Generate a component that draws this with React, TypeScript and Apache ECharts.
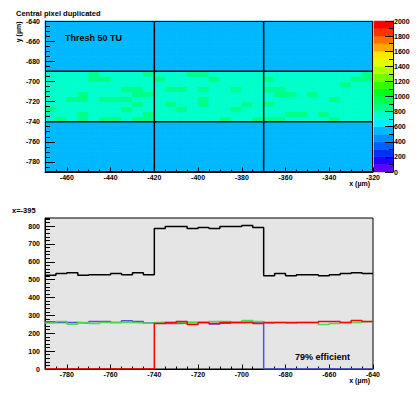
import React, { useEffect, useRef } from 'react';
import * as echarts from 'echarts';

// ---------- top 2D histogram (x, y in µm) ----------
const xStart = -470;
const xEnd = -320;
const yStart = -790;
const yEnd = -640;
const binSize = 5;
const bgValue = 530;
const bandValue = 785;
const hotValue = 820;
const bandTop = -690;
const bandBottom = -740;
// rows of the bright band, top row (-695..-690) first; '1' marks a hotter cell
const bandRows = [
  '000010000100011000000000000001',
  '000011000010000100001000000011',
  '000000000000000000000000000100',
  '000000011001101001001100000000',
  '000100001100000000000110100000',
  '001101110000001000000000001000',
  '000000001001001000101000000000',
  '100000010000100001000000000000',
  '000100000100000000000011010000',
  '010101101100000010011100001000',
];
const vLines = [-420, -370];
const hLines = [-740, -690];

// colour scale
const zMax = 2000;
const zStep = 100;
const palette = [
  '#6000ff', '#2400ff', '#0030ff', '#0060ff', '#0090ff',
  '#00b8ff', '#00f0ff', '#00ffcc', '#00ff88', '#00ff50',
  '#00ff1c', '#30ff00', '#70ff00', '#b0ff00', '#e0ff00',
  '#ffe800', '#ffa800', '#ff7000', '#ff3400', '#ff0000',
];

// ---------- bottom projection at x = -395 ----------
const projStart = -790;
const projEnd = -640;
const blackCounts = [524, 534, 539, 524, 528, 528, 534, 528, 539, 528, 786, 798, 798, 786, 792, 786, 798, 798, 803, 792, 522, 534, 522, 528, 528, 522, 528, 534, 539, 534];
const blueCounts = [264, 260, 260, 258, 266, 266, 260, 270, 266, 258, 260, 254, 256, 260, 260, 252, 256, 260, 262, 264, 0, 0, 0, 0, 0, 0, 0, 0, 0, 0];
const greenCounts = [258, 266, 250, 260, 254, 260, 260, 260, 258, 256, 260, 260, 260, 260, 260, 266, 266, 260, 271, 266, 256, 260, 256, 260, 260, 249, 254, 260, 260, 264];
const redCounts = [0, 0, 0, 0, 0, 0, 0, 0, 0, 0, 254, 260, 266, 249, 260, 254, 260, 260, 260, 254, 260, 260, 260, 260, 260, 266, 266, 260, 271, 266];
const projYMax = 845;

const FONT = '"Liberation Sans", Arial, Helvetica, sans-serif';

function colorFor(v: number) {
  const i = Math.max(0, Math.min(palette.length - 1, Math.floor(v / zStep)));
  return palette[i];
}

function buildHeat() {
  const data: number[][] = [];
  const nx = Math.round((xEnd - xStart) / binSize);
  const ny = Math.round((yEnd - yStart) / binSize);
  for (let iy = 0; iy < ny; iy++) {
    const y0 = yStart + iy * binSize;
    for (let ix = 0; ix < nx; ix++) {
      const x0 = xStart + ix * binSize;
      let v = bgValue;
      if (y0 >= bandBottom && y0 < bandTop) {
        const row = Math.round((bandTop - binSize - y0) / binSize);
        v = bandRows[row][ix] === '1' ? hotValue : bandValue;
      }
      data.push([x0, y0, v]);
    }
  }
  return data;
}

function stepData(counts: number[]) {
  const d = counts.map((v, i) => [projStart + i * binSize, v]);
  d.push([projStart + counts.length * binSize, counts[counts.length - 1]]);
  return d;
}

const labelStyle = {
  fontFamily: FONT, fontWeight: 'bold' as const, fontSize: 7, color: '#000',
  formatter: (v: number) => String(v),
};

function mainAxis(grid: number, pos: string, min: number, max: number, tickLen: number, margin: number, extra: any = {}, z = 5) {
  return {
    type: 'value', gridIndex: grid, position: pos, min, max, z,
    axisLine: { show: true, onZero: false, lineStyle: { color: '#000', width: 1 } },
    axisTick: { show: true, inside: true, length: tickLen, lineStyle: { color: '#000', width: 1 } },
    axisLabel: { ...labelStyle, margin, ...(extra.axisLabel || {}) },
    splitLine: { show: false },
    ...extra.rest,
  };
}

function minorAxis(grid: number, pos: string, min: number, max: number, interval: number, tickLen: number, z = 5) {
  return {
    type: 'value', gridIndex: grid, position: pos, min, max, interval, z,
    axisLine: { show: false, onZero: false },
    axisTick: { show: true, inside: true, length: tickLen, lineStyle: { color: '#000', width: 1 } },
    axisLabel: { show: false },
    splitLine: { show: false },
  };
}

export default function App() {
  const ref = useRef<HTMLDivElement>(null);
  useEffect(() => {
    if (!ref.current) return;
    const chart = echarts.init(ref.current, undefined, { renderer: 'svg' });
    const G0 = { left: 45, top: 21, width: 328, height: 151 };
    const G1 = { left: 374, top: 21, width: 19, height: 151 };
    const G2 = { left: 45, top: 218, width: 328, height: 151 };

    const lineSeries: any[] = [];
    vLines.forEach((x) => lineSeries.push({
      type: 'line', xAxisIndex: 0, yAxisIndex: 0, data: [[x, yStart], [x, yEnd]], symbol: 'none', z: 3,
      lineStyle: { color: '#000', width: 1.5 }, silent: true,
    }));
    hLines.forEach((y) => lineSeries.push({
      type: 'line', xAxisIndex: 0, yAxisIndex: 0, data: [[xStart, y], [xEnd, y]], symbol: 'none', z: 3,
      lineStyle: { color: '#000', width: 1.5 }, silent: true,
    }));

    const colorLevels = palette.map((_, i) => [i * zStep, (i + 1) * zStep]);

    const proj = (counts: number[], color: string, z: number) => ({
      type: 'line', xAxisIndex: 3, yAxisIndex: 4, step: 'end', data: stepData(counts), symbol: 'none', z,
      lineStyle: { color, width: 1.5 }, silent: true,
    });

    const txt = (text: string, x: number, y: number, size: number, align = 'left', rotation = 0) => ({
      type: 'text', x, y, rotation, z: 20, silent: true,
      style: { text, fill: '#000', fontFamily: FONT, fontWeight: 'bold', fontSize: size, align, verticalAlign: 'middle' },
    });

    chart.setOption({
      animation: false,
      backgroundColor: '#ffffff',
      grid: [
        { ...G0, show: false, containLabel: false, outerBoundsMode: 'none' },
        { ...G1, show: false, containLabel: false, outerBoundsMode: 'none' },
        { ...G2, show: true, backgroundColor: '#e5e5e5', borderColor: '#000', borderWidth: 1, containLabel: false, outerBoundsMode: 'none' },
      ],
      xAxis: [
        mainAxis(0, 'bottom', xStart, xEnd, 4.5, 2, { axisLabel: { showMinLabel: false, showMaxLabel: true }, rest: { minInterval: 20, maxInterval: 20, splitNumber: 8 } }),
        minorAxis(0, 'bottom', xStart, xEnd, 5, 2.5),
        { type: 'value', gridIndex: 1, min: 0, max: 1, show: false },
        mainAxis(2, 'bottom', projStart, projEnd, 4.5, 2, { axisLabel: { showMinLabel: false, showMaxLabel: true }, rest: { minInterval: 20, maxInterval: 20, splitNumber: 8 } }, 1),
        minorAxis(2, 'bottom', projStart, projEnd, 5, 2.5, 1),
      ],
      yAxis: [
        mainAxis(0, 'left', yStart, yEnd, 10, 5, { axisLabel: { showMinLabel: false, showMaxLabel: true }, rest: { minInterval: 20, maxInterval: 20, splitNumber: 8 } }),
        minorAxis(0, 'left', yStart, yEnd, 5, 5),
        mainAxis(1, 'right', 0, zMax, 8, 1, { axisLabel: { showMinLabel: true, showMaxLabel: true }, rest: { interval: 200 } }),
        minorAxis(1, 'right', 0, zMax, zStep, 4),
        mainAxis(2, 'left', 0, projYMax, 10, 5, { axisLabel: { showMinLabel: true, showMaxLabel: false }, rest: { interval: 100 } }, 1),
        minorAxis(2, 'left', 0, projYMax, 20, 5, 1),
      ],
      series: [
        {
          type: 'custom', xAxisIndex: 0, yAxisIndex: 0, data: buildHeat(), encode: { x: 0, y: 1 }, z: 2, silent: true,
          renderItem: (params: any, api: any) => {
            const x0 = api.value(0), y0 = api.value(1), v = api.value(2);
            const p1 = api.coord([x0, y0 + binSize]);
            const p2 = api.coord([x0 + binSize, y0]);
            const c = colorFor(v);
            return {
              type: 'rect',
              shape: { x: p1[0], y: p1[1], width: p2[0] - p1[0], height: p2[1] - p1[1] },
              style: { fill: c, stroke: c, lineWidth: 0.8 },
            };
          },
        },
        ...lineSeries,
        {
          type: 'custom', xAxisIndex: 2, yAxisIndex: 2, data: colorLevels, encode: { y: [0, 1] }, z: 2, silent: true,
          renderItem: (params: any, api: any) => {
            const lo = api.value(0), hi = api.value(1);
            const p1 = api.coord([0, hi]);
            const p2 = api.coord([1, lo]);
            const c = palette[params.dataIndex];
            return {
              type: 'rect',
              shape: { x: p1[0], y: p1[1], width: p2[0] - p1[0], height: p2[1] - p1[1] },
              style: { fill: c, stroke: c, lineWidth: 0.5 },
            };
          },
        },
        proj(blackCounts, '#000000', 2),
        proj(blueCounts, '#5050e0', 3),
        proj(greenCounts, '#50d850', 4),
        proj(redCounts, '#ff0000', 5),
      ],
      graphic: [
        {
          type: 'rect', z: 15, silent: true,
          shape: { x: G0.left + 0.5, y: G0.top + 0.5, width: G0.width - 1, height: G0.height - 1 },
          style: { fill: 'none', stroke: '#000', lineWidth: 1 },
        },
        txt('Central pixel duplicated', 16, 13, 7.5),
        txt('Thresh 50 TU', 65, 37.5, 9),
        txt('y (\u00b5m)', 18.5, 21.5, 7, 'right', Math.PI / 2),
        txt('x (\u00b5m)', 370, 183, 7, 'right'),
        txt('x=-395', 12, 210.5, 7.5),
        txt('79% efficient', 295, 357, 9),
        txt('x (\u00b5m)', 370, 380.5, 7, 'right'),
      ],
    });
    return () => chart.dispose();
  }, []);
  return <div ref={ref} style={{ position: 'fixed', left: 0, top: 0, width: 418, height: 393 }} />;
}
